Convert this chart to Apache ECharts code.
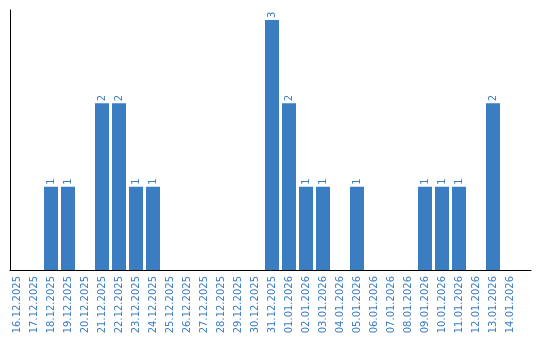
<!DOCTYPE html>
<html><head><meta charset="utf-8">
<script src="https://cdn.jsdelivr.net/npm/echarts@6/dist/echarts.min.js"></script>
<style>html,body{margin:0;padding:0;background:#fff}#c{width:540px;height:340px}</style>
</head><body><div id="c"></div>
<script>
const categories = ["16.12.2025","17.12.2025","18.12.2025","19.12.2025","20.12.2025","21.12.2025","22.12.2025","23.12.2025","24.12.2025","25.12.2025","26.12.2025","27.12.2025","28.12.2025","29.12.2025","30.12.2025","31.12.2025","01.01.2026","02.01.2026","03.01.2026","04.01.2026","05.01.2026","06.01.2026","07.01.2026","08.01.2026","09.01.2026","10.01.2026","11.01.2026","12.01.2026","13.01.2026","14.01.2026"];
const values = [0,0,1,1,0,2,2,1,1,0,0,0,0,0,0,3,2,1,1,0,1,0,0,0,1,1,1,0,2,0];
const blue = '#3b7dc1';
const font = 'DejaVu Sans';
const chart = echarts.init(document.getElementById('c'));
chart.setOption({
  animation: false,
  grid: [
    {left: 8.5, right: 21.5, top: 10, bottom: 70},
    {left: 10, right: 9, top: 10, bottom: 70}
  ],
  xAxis: [
    {type: 'category', gridIndex: 0, data: categories, boundaryGap: true,
     axisLine: {show: false}, axisTick: {show: false},
     axisLabel: {rotate: 90, interval: 0, fontSize: 10, fontFamily: font, color: blue, margin: 6}},
    {type: 'value', gridIndex: 1, min: 0, max: 1,
     axisLine: {show: true, onZero: false, lineStyle: {color: '#000', width: 1}},
     axisTick: {show: false}, axisLabel: {show: false}, splitLine: {show: false}}
  ],
  yAxis: [
    {type: 'value', gridIndex: 0, min: 0, max: 3.12, show: false, splitLine: {show: false}},
    {type: 'value', gridIndex: 1, min: 0, max: 1,
     axisLine: {show: true, onZero: false, lineStyle: {color: '#000', width: 1}},
     axisTick: {show: false}, axisLabel: {show: false}, splitLine: {show: false}}
  ],
  series: [{
    type: 'bar', xAxisIndex: 0, yAxisIndex: 0, data: values, barWidth: 14,
    itemStyle: {color: blue},
    label: {show: true, position: 'top', rotate: 90, align: 'left', verticalAlign: 'middle',
      distance: 2, fontSize: 10, fontFamily: font, color: blue,
      formatter: p => p.value > 0 ? String(p.value) : ''}
  }]
});
</script></body></html>
